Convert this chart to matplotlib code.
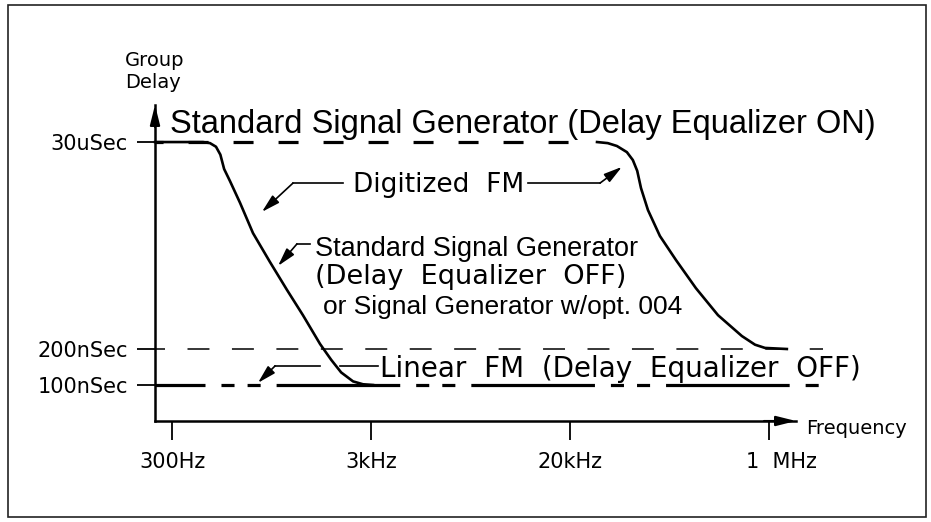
import matplotlib.pyplot as plt
from matplotlib.transforms import ScaledTranslation

plt.rcParams["lines.scale_dashes"] = False
plt.rcParams["font.family"] = ["DejaVu Sans"]

# 横軸の目盛り (模式図なので等間隔: 0=300Hz, 1=3kHz, 2=20kHz, 3=1MHz)
freq_ticks = [0, 1, 2, 3]
freq_labels = ["300Hz", "3kHz", "20kHz", "1  MHz"]

# 縦軸の目盛り (模式図の段: 0=100nSec, 1=200nSec, 6.75=30uSec)
delay_ticks = [0, 1, 6.75]
delay_labels = ["100nSec", "200nSec", "30uSec"]

# Standard Signal Generator (Delay Equalizer OFF) の曲線
std_off_x = [-0.085, 0.156, 0.191, 0.221, 0.243, 0.262, 0.291, 0.342, 0.407,
             0.492, 0.578, 0.658, 0.744, 0.800, 0.850, 0.910, 0.960, 1.010]
std_off_y = [6.75, 6.75, 6.72, 6.62, 6.40, 6.00, 5.67, 5.06, 4.22,
             3.42, 2.64, 1.94, 1.14, 0.70, 0.35, 0.10, 0.02, 0.0]

# Digitized FM の曲線
dig_x = [2.136, 2.190, 2.236, 2.286, 2.316, 2.338, 2.357, 2.392, 2.452,
         2.533, 2.633, 2.744, 2.864, 2.930, 2.980, 3.090]
dig_y = [6.75, 6.72, 6.64, 6.47, 6.25, 5.95, 5.47, 4.86, 4.14,
         3.47, 2.69, 1.94, 1.36, 1.12, 1.03, 1.0]

# 水平の破線 (30uSec, 200nSec, 100nSec)
eq_on_x = [-0.085, 2.035]
eq_on_y = [6.75, 6.75]
lvl200_x = [-0.085, 3.27]
lvl200_y = [1, 1]
linear_x = [-0.085, 3.27]
linear_y = [0, 0]

fig = plt.figure(figsize=(9.31, 5.22), dpi=100)
ax = fig.add_axes([0.1665, 0.1935, 0.6885, 0.6054])
ax.set_xlim(-0.0854, 3.136)
ax.set_ylim(-1.0, 7.78)

# 曲線と破線
ax.plot(std_off_x, std_off_y, color="k", lw=1.9, solid_joinstyle="round", clip_on=False)
ax.plot(dig_x, dig_y, color="k", lw=1.9, solid_joinstyle="round", clip_on=False)
ax.plot(eq_on_x, eq_on_y, color="k", lw=2.3, ls=(8.6, (14.4, 18)), clip_on=False)
ax.plot(lvl200_x, lvl200_y, color="k", lw=1.1, ls=(8.6, (15.8, 16.2)), clip_on=False)
ax.plot(linear_x, linear_y, color="k", lw=2.3, clip_on=False,
        ls=(53, (89, 11.5, 9.4, 9.4, 9.4, 11.5)))

# 軸
for side in ["top", "right"]:
    ax.spines[side].set_visible(False)
for side in ["left", "bottom"]:
    ax.spines[side].set_linewidth(1.8)
arrow = dict(arrowstyle="-|>,head_length=1.2,head_width=0.3", color="k",
             lw=1.5, shrinkA=0, shrinkB=0)
ax.annotate("", xy=(1, 0), xytext=(0.95, 0), xycoords="axes fraction", arrowprops=arrow)
ax.annotate("", xy=(0, 1), xytext=(0, 0.93), xycoords="axes fraction", arrowprops=arrow)

ax.set_xticks(freq_ticks, freq_labels)
ax.set_yticks(delay_ticks, delay_labels)
ax.tick_params(axis="x", direction="out", length=13.5, width=1.3, pad=9, labelsize=15)
ax.tick_params(axis="y", direction="out", length=13, width=1.3, pad=6.5, labelsize=15)
last = ax.get_xticklabels()[-1]
last.set_transform(last.get_transform() + ScaledTranslation(0.12, 0, fig.dpi_scale_trans))

# テキスト
ax.text(-0.236, 8.71, "Group\nDelay", fontsize=14, ha="left", va="center", linespacing=1.2)
ax.text(-0.010, 7.0, "Standard Signal Generator (Delay Equalizer ON)",
        fontsize=23.5, family="Liberation Sans", va="baseline")
ax.text(3.186, -1.36, "Frequency", fontsize=14, va="baseline")

ax.text(0.910, 5.35, "Digitized  FM", fontsize=19, va="baseline")
ax.text(0.719, 3.59, "Standard Signal Generator", fontsize=19.5,
        family="Liberation Sans", va="baseline")
ax.text(0.719, 2.81, "(Delay  Equalizer  OFF)", fontsize=19.5, va="baseline")
ax.text(0.759, 1.98, "or Signal Generator w/opt. 004", fontsize=19,
        family="Liberation Sans", va="baseline")
ax.text(1.045, 0.22, "Linear  FM  (Delay  Equalizer  OFF)", fontsize=20, va="baseline")

# 引出線
lead = dict(arrowstyle="-|>,head_length=1.1,head_width=0.3", color="k",
            lw=1.2, shrinkA=0, shrinkB=0)
ax.plot([0.859, 0.608], [5.61, 5.61], color="k", lw=1.2)
ax.annotate("", xy=(0.452, 4.81), xytext=(0.608, 5.61), arrowprops=lead)
ax.plot([1.789, 2.151], [5.61, 5.61], color="k", lw=1.2)
ax.annotate("", xy=(2.261, 6.06), xytext=(2.151, 5.61), arrowprops=lead)
ax.plot([0.693, 0.628], [3.92, 3.92], color="k", lw=1.2)
ax.annotate("", xy=(0.533, 3.31), xytext=(0.628, 3.92), arrowprops=lead)
ax.plot([1.035, 0.844], [0.53, 0.53], color="k", lw=1.2)
ax.plot([0.744, 0.518], [0.53, 0.53], color="k", lw=1.2)
ax.annotate("", xy=(0.432, 0.06), xytext=(0.518, 0.53), arrowprops=lead)

# 外枠
fig.add_artist(plt.Rectangle((0.0086, 0.0096), 0.986, 0.981, transform=fig.transFigure,
                             fill=False, lw=1.2, ec="#222222"))

fig.savefig("out.png", dpi=100)
